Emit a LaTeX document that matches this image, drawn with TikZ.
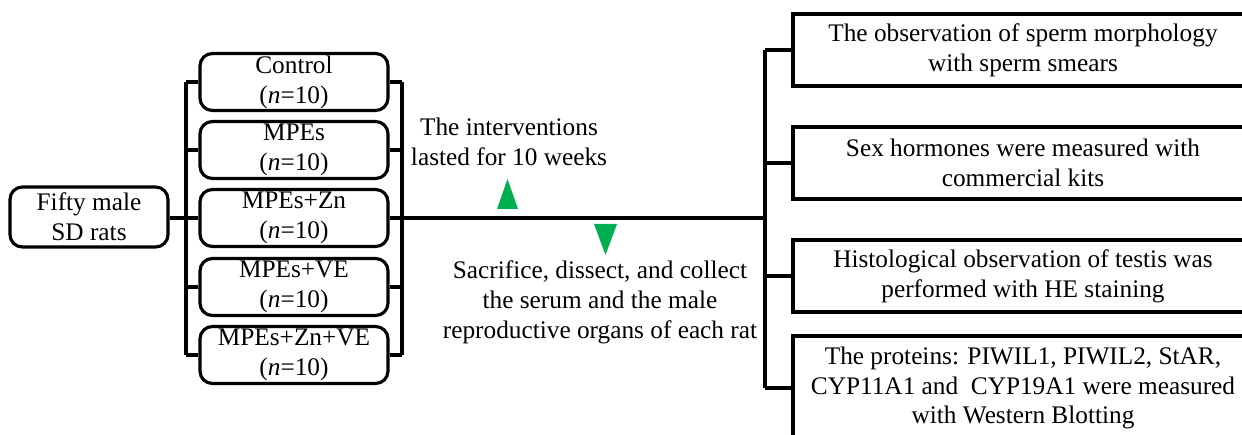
\documentclass[tikz,border=0pt]{standalone}
\usepackage{fontspec}
\setmainfont{Liberation Serif}
\usepackage{xcolor}
\usepackage{tikz}
\usetikzlibrary{positioning}

\definecolor{markgreen}{HTML}{00B050}

\begin{document}
\begin{tikzpicture}[
        x=0.02cm, y=-0.02cm,
        line width=1.8pt,
        txt/.style={font=\fontsize{14.4}{17}\selectfont, align=center, inner sep=0pt},
        rbox/.style={txt, draw, rounded corners=7pt, minimum width=3.76cm, minimum height=1.14cm},
        obox/.style={txt, draw, minimum width=9.2cm, minimum height=1.44cm}
    ]
    \useasboundingbox (0,0) rectangle (1242,435);
    \clip (0,0) rectangle (1242,435);

    % Groups
    \node[rbox, minimum width=3.16cm, minimum height=1.2cm] (rats) at (89,217) {Fifty male\\SD rats};
    \node[rbox] (g1) at (294,82)  {Control\\(\textit{n}=10)};
    \node[rbox] (g2) at (294,150) {MPEs\\(\textit{n}=10)};
    \node[rbox] (g3) at (294,218) {MPEs+Zn\\(\textit{n}=10)};
    \node[rbox] (g4) at (294,287) {MPEs+VE\\(\textit{n}=10)};
    \node[rbox] (g5) at (294,355) {MPEs+Zn+VE\\(\textit{n}=10)};

    % Outcomes
    \node[obox] (o1) at (1023,50)  {The observation of sperm morphology\\with sperm smears};
    \node[obox] (o2) at (1023,163) {Sex hormones were measured with\\commercial kits};
    \node[obox] (o3) at (1023,276) {Histological observation of testis was\\performed with HE staining};
    \node[obox, minimum height=2.08cm] (o4) at (1023,388) {The proteins: PIWIL1, PIWIL2, StAR,\\CYP11A1 and\ \ CYP19A1 were measured\\with Western Blotting};

    % Labels
    \node[txt] (weeks) at (509,142) {The interventions\\lasted for 10 weeks};
    \node[txt] (sacr) at (600,302) {Sacrifice, dissect, and collect\\the serum and the male\\reproductive organs of each rat};

    % Buses
    \coordinate (lb) at (186,218);
    \coordinate (rb) at (402,218);
    \coordinate (tb) at (765,218);

    \draw (rats.east |- lb) -- (g3.west);
    \draw (g1.west -| lb) -- (g5.west -| lb);
    \draw (g1.east -| rb) -- (g5.east -| rb);
    \foreach \i in {1,...,5} {
        \draw (g\i.west) -- (g\i.west -| lb);
        \draw (g\i.east) -- (g\i.east -| rb);
    }
    \draw (g3.east) -- (tb);
    \draw (o1.west -| tb) -- (o4.west -| tb);
    \foreach \i in {1,...,4}
        \draw (o\i.west -| tb) -- (o\i.west);

    % Triangles
    \fill[markgreen] (497,209) -- (518,209) -- (507.5,179) -- cycle;
    \fill[markgreen] (594,224) -- (617,224) -- (605.5,255) -- cycle;
\end{tikzpicture}
\end{document}
